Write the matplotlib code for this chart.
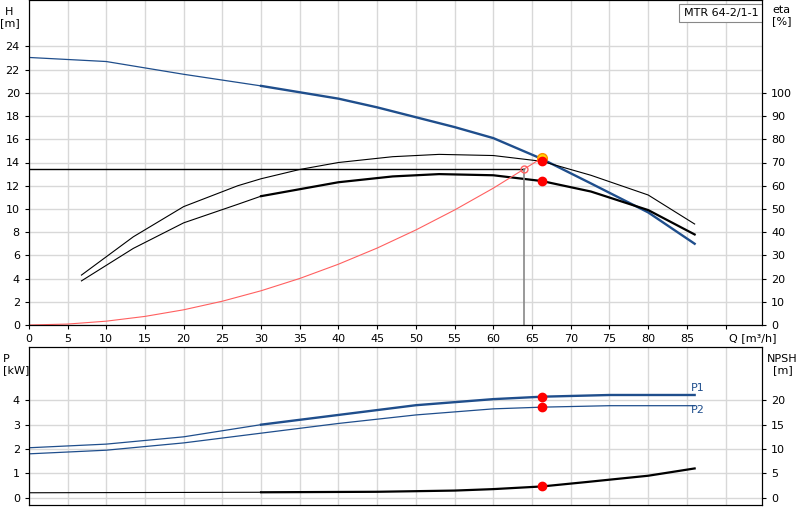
import matplotlib
matplotlib.use("Agg")
import matplotlib.pyplot as plt

q_h = [0, 10, 20, 30, 35, 40, 45, 50, 55, 60, 66.3, 72.6, 80, 86]
h = [23.05, 22.7, 21.6, 20.6, 20.05, 19.5, 18.75, 17.9, 17.05, 16.1, 14.3, 12.2, 9.7, 7.0]
q_eta = [6.8, 13.5, 20, 27, 30, 35, 40, 47, 53, 60, 66.3, 72.6, 80, 86]
eta = [19, 33, 44, 52, 55.5, 58.5, 61.5, 64, 65, 64.5, 62, 57.5, 49.5, 39]
eta2 = [21.5, 38, 51, 60, 63, 67, 70, 72.5, 73.5, 73, 70.5, 64.5, 56, 43.5]
q_sys = [0, 5, 10, 15, 20, 25, 30, 35, 40, 45, 50, 55, 60, 66.3]
h_sys = [0, 0.08, 0.33, 0.74, 1.31, 2.05, 2.95, 4.01, 5.24, 6.63, 8.19, 9.91, 11.79, 14.4]
q_p = [0, 10, 20, 30, 40, 50, 60, 66.3, 75, 86]
p1 = [2.05, 2.2, 2.5, 3.0, 3.4, 3.8, 4.05, 4.15, 4.22, 4.22]
p2 = [1.8, 1.95, 2.25, 2.65, 3.05, 3.4, 3.65, 3.72, 3.78, 3.78]
q_npsh = [0, 30, 45, 55, 60, 66.3, 72, 80, 86]
npsh = [1.0, 1.1, 1.2, 1.45, 1.75, 2.3, 3.2, 4.5, 6.0]
q_op, h_op = 66.3, 14.4
q_req, h_req = 64, 13.4

BLUE = "#1f4e8c"
fig = plt.figure(figsize=(8, 5.2), dpi=100)
ax = fig.add_axes([0.036, 0.375, 0.9165, 0.625])
ax2 = ax.twinx()
bx = fig.add_axes([0.036, 0.029, 0.9165, 0.304])
bx2 = bx.twinx()

def split(x, y, xs=30):
    a = [(xi, yi) for xi, yi in zip(x, y) if xi <= xs]
    b = [(xi, yi) for xi, yi in zip(x, y) if xi >= xs]
    return list(zip(*a)), list(zip(*b))

for a in (ax, bx):
    a.set_xlim(0, 94.7)
    a.grid(True, color="#d8d8d8", lw=1)
    a.set_axisbelow(True)
    a.tick_params(labelsize=8, length=3)
ax.set_ylim(0, 28)
ax2.set_ylim(0, 140)
ax.set_xticks(range(0, 95, 5))
ax.set_xticklabels([str(v) for v in range(0, 90, 5)] + [""])
ax.set_yticks(range(0, 26, 2))
ax2.set_yticks(range(0, 101, 10))
ax2.tick_params(labelsize=8, length=3)
ax.text(90.5, -1.1, "Q [m³/h]", fontsize=8, va="center")

(a1, a2) = split(q_h, h)
ax.plot(*a1, color=BLUE, lw=0.9)
ax.plot(*a2, color=BLUE, lw=1.7)
e1, e2 = split(q_eta, [v / 5 for v in eta])
ax.plot(*e1, color="black", lw=0.8)
ax.plot(*e2, color="black", lw=1.6)
ax.plot(q_eta, [v / 5 for v in eta2], color="black", lw=0.8)
ax.plot(q_sys, h_sys, color="#ff6060", lw=0.8)
ax.plot([0, q_req], [h_req, h_req], color="black", lw=1)
ax.plot([q_req, q_req], [0, h_req], color="#888888", lw=1.2)
ax.plot(q_req, h_req, "o", mfc="none", mec="#ff6060", ms=5)
ax.plot(q_op, h_op, "o", color="#ffd700", mec="#ff8c00", ms=7)
ax.plot(q_op, 70.5 / 5, "o", color="red", ms=6)
ax.plot(q_op, 62 / 5, "o", color="red", ms=6)
ax.text(-2.5, 27.4, "H\n[m]", fontsize=8, ha="center", va="top")
ax2.text(97.2, 138, "eta\n[%]", fontsize=8, ha="center", va="top")
ax.text(94.2, 27.3, "MTR 64-2/1-1", fontsize=8, ha="right", va="top",
        bbox=dict(fc="white", ec="#888888", lw=0.8, pad=3))

bx.set_ylim(-0.3, 6.2)
bx2.set_ylim(-1.5, 31)
bx.set_yticks(range(0, 5))
bx2.set_yticks(range(0, 21, 5))
bx2.tick_params(labelsize=8, length=3)
bx.set_xticks(range(0, 95, 5))
bx.tick_params(axis="x", length=0)
bx.set_xticklabels([])
b1, b2 = split(q_p, p1)
bx.plot(*b1, color=BLUE, lw=0.9)
bx.plot(*b2, color=BLUE, lw=1.7)
bx.plot(q_p, p2, color=BLUE, lw=0.9)
bx.plot(66.3, 4.15, "o", color="red", ms=6)
bx.plot(66.3, 3.72, "o", color="red", ms=6)
bx.text(85.5, 4.4, "P1", color=BLUE, fontsize=8)
bx.text(85.5, 3.5, "P2", color=BLUE, fontsize=8)
n1, n2 = split(q_npsh, npsh)
bx2.plot(*n1, color="black", lw=0.8)
bx2.plot(*n2, color="black", lw=1.6)
bx2.plot(66.3, 2.3, "o", color="red", ms=6)
fig.text(0.004, 0.32, "P\n[kW]", fontsize=8, ha="left", va="top")
fig.text(0.978, 0.32, "NPSH\n[m]", fontsize=8, ha="center", va="top")

fig.savefig("out.png", dpi=100)
